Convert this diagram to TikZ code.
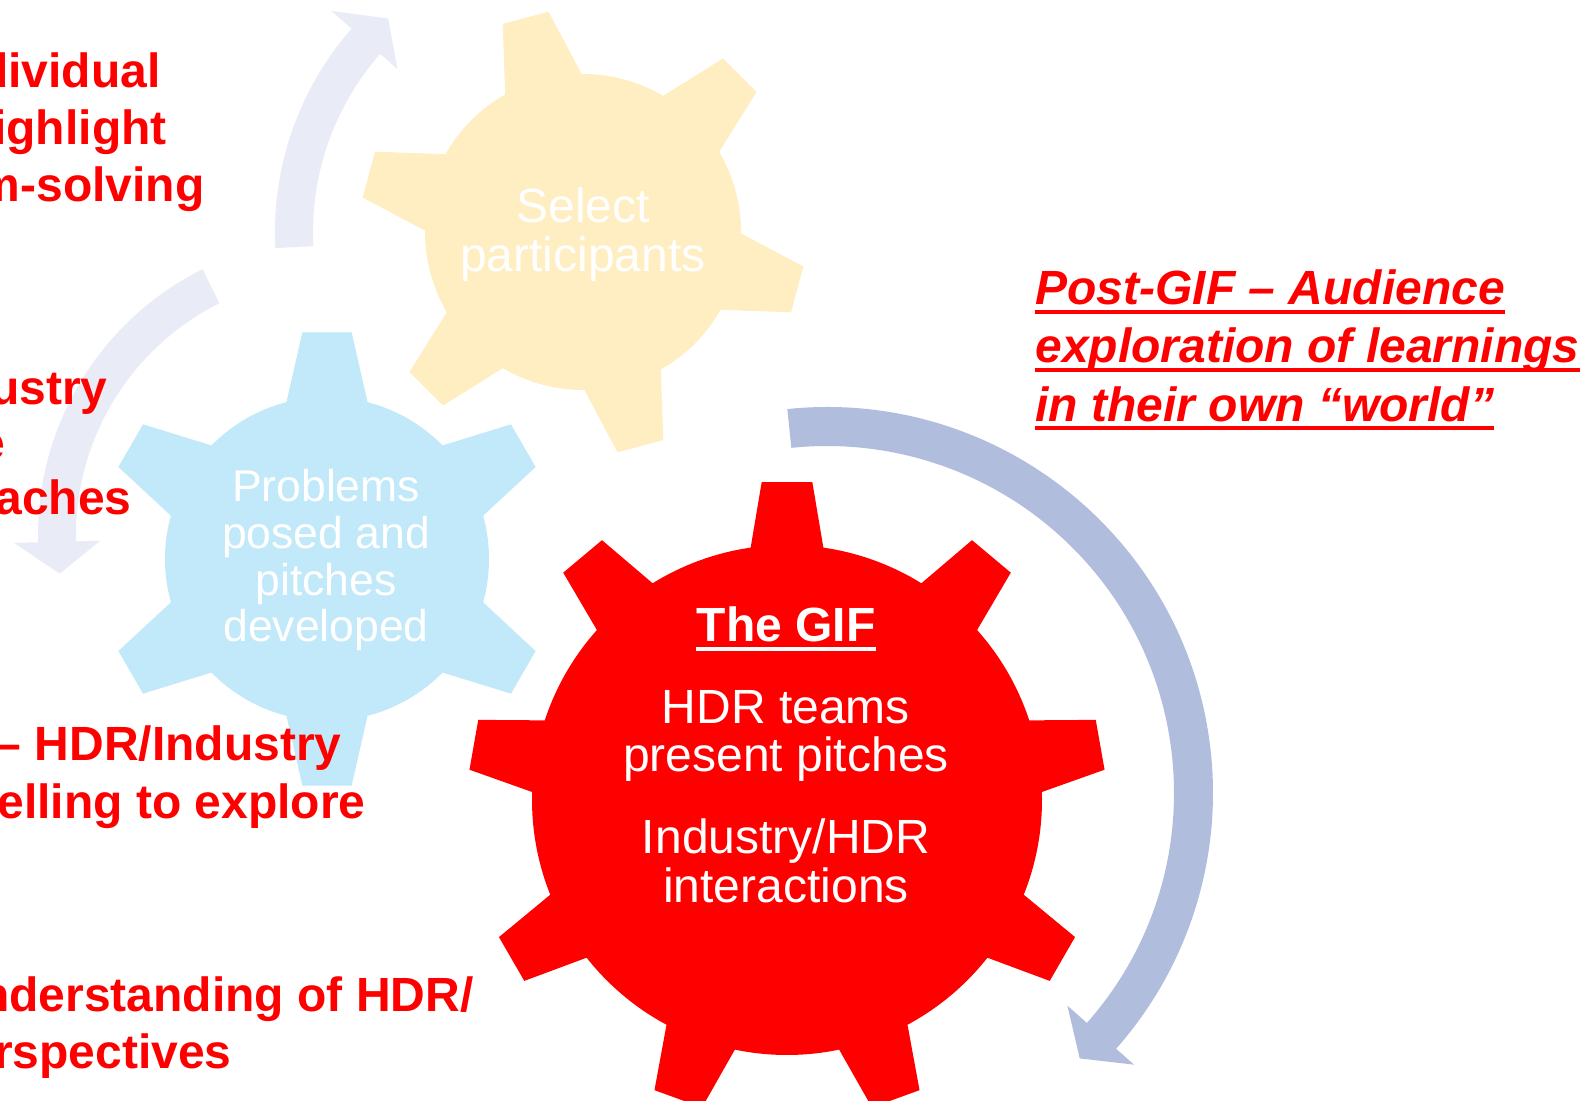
\documentclass[tikz,border=0pt]{standalone}
\usepackage{fontspec}
\setmainfont{Liberation Sans}
\definecolor{gearyellow}{RGB}{255,238,194}
\definecolor{gearblue}{RGB}{193,233,249}
\definecolor{loopblue}{RGB}{176,189,221}
\definecolor{loopfaint}{RGB}{233,236,246}
% #1 centre, #2 teeth, #3 first tooth, #4 body r, #5 tip r, #6 base half angle, #7 tip half angle, #8 colour
\newcommand{\drawgear}[8]{%
  \pgfmathsetmacro\gstep{360/#2}
  \fill[#8, shift={#1}] ({#3-#6}:#4)
    \foreach \k in {1,...,#2} {
      -- ({#3+(\k-1)*\gstep-#7}:#5) -- ({#3+(\k-1)*\gstep+#7}:#5)
      -- ({#3+(\k-1)*\gstep+#6}:#4)
      arc[start angle={#3+(\k-1)*\gstep+#6}, end angle={#3+\k*\gstep-#6}, radius=#4]
    } -- cycle;
}
% #1 centre, #2 inner r, #3 outer r, #4 start, #5 shaft end, #6 tip, #7/#8 head radii, #9 colour
\newcommand{\bentarrow}[9]{%
  \fill[#9, shift={#1}] ({#4}:#3) arc[start angle={#4}, end angle={#5}, radius=#3]
    -- ({#5}:#8) -- ({#6}:{(#2+#3)/2}) -- ({#5}:#7) -- ({#5}:#2)
    arc[start angle={#5}, end angle={#4}, radius=#2] -- cycle;
}
\newcommand{\textrule}[2]{\fill[#2] ([yshift=-2.5pt]#1.base west) rectangle ([yshift=-4.5pt]#1.base east);}
\tikzset{redline/.style={font=\bfseries\fontsize{24}{28}\selectfont, text=red, inner sep=0, anchor=base east},
	postline/.style={font=\bfseries\itshape\fontsize{24}{28}\selectfont, text=red, inner sep=0, anchor=base west},
	cogtext/.style={font=\fontsize{24}{24.5}\selectfont, text=white, align=center, inner sep=0, anchor=base} }

\begin{document}
\begin{tikzpicture}[x=0.5pt, y=-0.5pt]
  \fill[white] (0,0) rectangle (1594,1101);
  \useasboundingbox (0,0) rectangle (1594,1101);
  \clip (0,0) rectangle (1594,1101);

  \coordinate (select) at (583,232);
  \coordinate (problems) at (327,559);
  \coordinate (problems loop) at (335,535);
  \coordinate (gif) at (787,800);
  \coordinate (gif loop) at (827,793);

  % faint cycle arrows
  \bentarrow{(select)}{270}{308}{-183}{-138.7}{-132.4}{247}{335}{loopfaint}
  \bentarrow{(problems loop)}{259}{297}{-116.5}{-181.4}{-188}{235}{321}{loopfaint}

  % gears
  \drawgear{(problems)}{6}{-90}{162}{228}{14.5}{6.2}{gearblue}
  \drawgear{(select)}{6}{-105}{158}{223}{14.5}{6.1}{gearyellow}
  \drawgear{(gif)}{9}{-90}{255}{319}{8.2}{4.55}{red}

  \bentarrow{(gif loop)}{347}{386}{-95.9}{41.5}{46.4}{321}{410}{loopblue}

  % multi-line nodes sit on their last baseline
  \node (select text) [cogtext] at (583,271.7) {Select\\participants};
  \node (problems text) [cogtext, font=\fontsize{22.25}{23.35}\selectfont] at (326,641.7)
    {Problems\\posed and\\pitches\\developed};
  \node (gif title) [cogtext, font=\bfseries\fontsize{24}{28}\selectfont] at (786,641.7) {The GIF};
  \node (gif teams) [cogtext, font=\fontsize{24}{24.2}\selectfont] at (786,771.7) {HDR teams\\present pitches};
  \node (gif talk) [cogtext, font=\fontsize{24}{24.2}\selectfont] at (786,902) {Industry/HDR\\interactions};
  \textrule{gif title}{white}

  % left column, cut by the frame
  \node (ind a) [redline] at (161,88) {dividual};
  \node (ind b) [redline] at (167,145) {ighlight};
  \node (ind c) [redline] at (205,202) {m-solving};
  \node (app a) [redline] at (108,404) {ustry};
  \node (app b) [redline] at (6,459) {e};
  \node (app c) [redline] at (132,514) {aches};
  \node (mod a) [redline] at (342,760) {– HDR/Industry};
  \node (mod b) [redline] at (366,818) {elling to explore};
  \node (per a) [redline] at (474,1011) {nderstanding of HDR/};
  \node (per b) [redline] at (232,1068) {rspectives};

  % post-GIF
  \node (post a) [postline] at (1035,305) {Post-GIF – Audience};
  \node (post b) [postline] at (1035,363) {exploration of learnings};
  \node (post c) [postline] at (1035,421) {in their own “world”};
  \textrule{post a}{red}
  \textrule{post b}{red}
  \textrule{post c}{red}
\end{tikzpicture}
\end{document}
